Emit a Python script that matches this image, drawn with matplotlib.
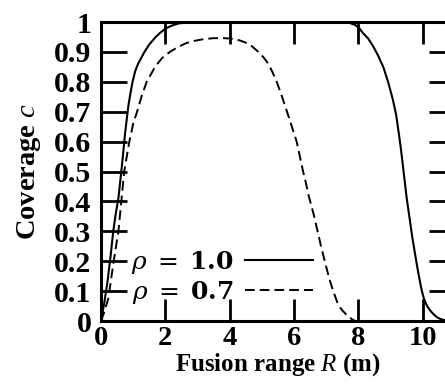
import matplotlib
matplotlib.use("Agg")
import matplotlib.pyplot as plt

# coverage vs fusion range, rho = 1.0 (solid)
r_solid = [0, 0.1, 0.2, 0.3, 0.38, 0.46, 0.54, 0.65, 0.75, 0.85, 0.92, 0.98, 1.06, 1.15,
           1.25, 1.35, 1.5, 1.7, 1.85, 2.0, 2.2, 2.4, 2.7, 3.0, 4.0, 5.0, 6.0, 7.0, 7.5,
           7.7, 7.9, 8.02, 8.14, 8.3, 8.45, 8.6, 8.77, 8.92, 9.07, 9.17, 9.25, 9.32,
           9.38, 9.44, 9.5, 9.56, 9.62, 9.68, 9.75, 9.82, 9.89, 9.96, 10.03, 10.09,
           10.15, 10.21, 10.27, 10.36, 10.45, 10.54, 10.63, 10.75, 10.9, 11.0]
c_solid = [0, 0.06, 0.13, 0.22, 0.30, 0.36, 0.41, 0.52, 0.63, 0.72, 0.765, 0.80, 0.835, 0.86,
           0.88, 0.90, 0.925, 0.95, 0.965, 0.978, 0.988, 0.995, 0.999, 1.0, 1.0, 1.0, 1.0, 1.0, 1.0,
           0.998, 0.99, 0.98, 0.963, 0.945, 0.92, 0.89, 0.85, 0.80, 0.74, 0.69, 0.63, 0.575,
           0.52, 0.465, 0.41, 0.365, 0.32, 0.275, 0.23, 0.185, 0.143, 0.105, 0.076, 0.06,
           0.047, 0.038, 0.03, 0.02, 0.012, 0.007, 0.004, 0.002, 0, 0]

# rho = 0.7 (dashed)
r_dashed = [0, 0.1, 0.23, 0.38, 0.54, 0.64, 0.72, 0.8, 0.88, 1.0, 1.12, 1.27, 1.42, 1.55,
            1.68, 1.9, 2.14, 2.4, 2.66, 2.9, 3.2, 3.5, 3.8, 4.0, 4.2, 4.35, 4.52, 4.7, 4.89,
            5.05, 5.2, 5.33, 5.46, 5.62, 5.78, 5.93, 6.08, 6.18, 6.28, 6.37, 6.45, 6.6,
            6.72, 6.83, 6.96, 7.09, 7.17, 7.25, 7.37, 7.45, 7.52, 7.6, 7.68, 7.8, 7.9, 11.0]
c_dashed = [0, 0.03, 0.076, 0.19, 0.30, 0.41, 0.50, 0.55, 0.60, 0.66, 0.70, 0.755, 0.80, 0.825,
            0.85, 0.88, 0.90, 0.917, 0.93, 0.937, 0.943, 0.946, 0.946, 0.945, 0.942, 0.937, 0.93,
            0.918, 0.90, 0.882, 0.86, 0.832, 0.80, 0.752, 0.70, 0.65, 0.60, 0.55, 0.50, 0.46,
            0.42, 0.36, 0.305, 0.253, 0.197, 0.143, 0.115, 0.09, 0.054, 0.042, 0.033, 0.024,
            0.015, 0.006, 0, 0]

x_ticks = [0, 2, 4, 6, 8, 10]
y_ticks = [0, 0.1, 0.2, 0.3, 0.4, 0.5, 0.6, 0.7, 0.8, 0.9, 1.0]
y_tick_labels = ["0", "0.1", "0.2", "0.3", "0.4", "0.5", "0.6", "0.7", "0.8", "0.9", "1"]
legend_labels = [r"$\rho\;=\;\mathbf{1.0}$", r"$\rho\;=\;\mathbf{0.7}$"]

plt.rcParams["font.family"] = "Liberation Serif"
plt.rcParams["mathtext.fontset"] = "custom"
plt.rcParams["mathtext.rm"] = "Liberation Serif:bold"
plt.rcParams["mathtext.it"] = "Liberation Serif:italic"
plt.rcParams["lines.scale_dashes"] = False

fig = plt.figure(figsize=(4.45, 3.85), dpi=100)
ax = fig.add_axes([0.227, 0.1662, 0.7955, 0.7766])

ax.plot(r_solid, c_solid, color="black", lw=1.5, label=legend_labels[0])
ax.plot(r_dashed, c_dashed, color="black", lw=1.4, dashes=(7, 3.6), label=legend_labels[1])

ax.set_xlim(0, 11)
ax.set_ylim(0, 1)
ax.set_xticks(x_ticks)
ax.set_yticks(y_ticks)
ax.set_yticklabels(y_tick_labels)

for s in ax.spines.values():
    s.set_linewidth(2.2)
ax.tick_params(direction="in", top=True, right=True, width=2)
ax.tick_params(axis="y", length=19, labelsize=21.5, pad=7)
ax.tick_params(axis="x", length=16, labelsize=20.5, pad=3.5)
for lbl in ax.get_xticklabels() + ax.get_yticklabels():
    lbl.set_fontweight("bold")

ax.set_xlabel(r"Fusion range $R$ (m)", fontsize=18, fontweight="bold", labelpad=0)
ax.set_ylabel(r"Coverage $c$", fontsize=20.5, fontweight="bold", labelpad=8)

leg = ax.legend(loc="lower left", bbox_to_anchor=(0.085, 0.05), frameon=False,
                markerfirst=False, handlelength=2.7, handletextpad=0.45,
                labelspacing=0.12, borderpad=0, borderaxespad=0,
                prop={"size": 18})
for t in leg.get_texts():
    t.set_math_fontfamily("dejavuserif")

fig.savefig("out.png", dpi=100)
